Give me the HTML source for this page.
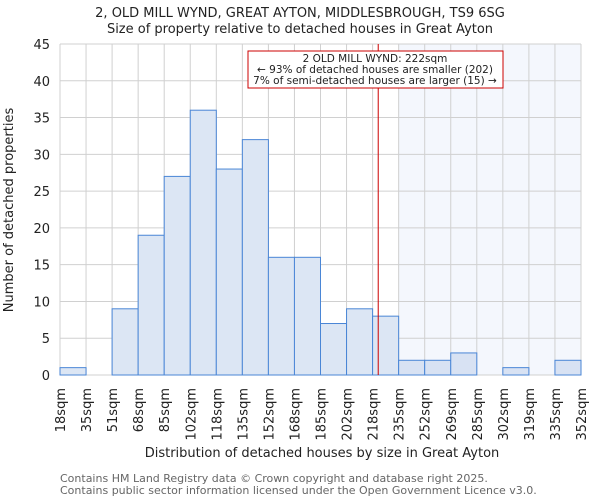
<!DOCTYPE html>
<html><head><meta charset="utf-8"><style>
body{margin:0;background:#fff;font-family:"DejaVu Sans","Liberation Sans",sans-serif}
</style></head><body>
<svg width="600" height="500" xmlns="http://www.w3.org/2000/svg" font-family="DejaVu Sans, Liberation Sans, sans-serif">
<text x="300" y="17" text-anchor="middle" font-size="13" fill="#222">2, OLD MILL WYND, GREAT AYTON, MIDDLESBROUGH, TS9 6SG</text>
<text x="300" y="33" text-anchor="middle" font-size="13" fill="#222">Size of property relative to detached houses in Great Ayton</text>
<g id="plot"></g>
<text transform="translate(13,210) rotate(-90)" text-anchor="middle" font-size="13" fill="#222">Number of detached properties</text>
<text x="322" y="457" text-anchor="middle" font-size="13" fill="#222">Distribution of detached houses by size in Great Ayton</text>
<text x="60" y="482" font-size="11" fill="#666">Contains HM Land Registry data © Crown copyright and database right 2025.</text>
<text x="60" y="494" font-size="11" fill="#666">Contains public sector information licensed under the Open Government Licence v3.0.</text>
</svg>
<script>
const categories=["18sqm","35sqm","51sqm","68sqm","85sqm","102sqm","118sqm","135sqm","152sqm","168sqm","185sqm","202sqm","218sqm","235sqm","252sqm","269sqm","285sqm","302sqm","319sqm","335sqm","352sqm"];
const counts=[1,0,9,19,27,36,28,32,16,16,7,9,8,2,2,3,0,1,0,2];
const yTicks=[0,5,10,15,20,25,30,35,40,45];
const propertySize=222;
const binStart=18, binWidth=16.7;
const L=60,R=581,T=44,B=375,yMax=45;
const n=counts.length, bw=(R-L)/n;
const ns="http://www.w3.org/2000/svg";
const g=document.getElementById('plot');
const xs=i=>L+i*bw;
const ys=v=>B-v/yMax*(B-T);
const xv=v=>L+(v-binStart)/binWidth*bw;
function mk(t,a){const e=document.createElementNS(ns,t);for(const k in a)e.setAttribute(k,a[k]);g.appendChild(e);return e;}
const hiStart=Math.floor((propertySize-binStart)/binWidth)+1;
let e=mk('rect',{x:xs(hiStart),y:T,width:R-xs(hiStart),height:B-T,fill:'#f4f7fd'});


for(let i=0;i<=n;i++){mk('line',{x1:xs(i),x2:xs(i),y1:T,y2:B,stroke:'#d0d0d0','stroke-width':1});}
yTicks.forEach(t=>{mk('line',{x1:L,x2:R,y1:ys(t),y2:ys(t),stroke:'#d0d0d0','stroke-width':1});
 const tx=mk('text',{x:L-10,y:ys(t)+5,'text-anchor':'end','font-size':13,fill:'#222'});tx.textContent=t;
 
 });
counts.forEach((c,i)=>{if(c<=0)return;
 const r=mk('rect',{x:xs(i),y:ys(c),width:bw,height:B-ys(c),fill:i>=hiStart?'#d8e2f3':'#dce6f4',stroke:'#4a86d6','stroke-width':1});
 
 });
categories.forEach((c,i)=>{const tx=mk('text',{transform:`translate(${xs(i)+5},388) rotate(-90)`,'text-anchor':'end','font-size':13,fill:'#222'});tx.textContent=c;
 
 });
const px=xv(propertySize);
e=mk('line',{x1:px,x2:px,y1:T,y2:B,stroke:'#cc0000','stroke-width':1});


e=mk('rect',{x:248,y:51,width:255,height:37,fill:'#fff',stroke:'#cc0000','stroke-width':1});


["2 OLD MILL WYND: 222sqm","← 93% of detached houses are smaller (202)","7% of semi-detached houses are larger (15) →"].forEach((s,k)=>{
 const tx=mk('text',{x:375,y:62+k*11,'text-anchor':'middle','font-size':10.5,fill:'#222'});tx.textContent=s;
 
 });
</script>
</body></html>
